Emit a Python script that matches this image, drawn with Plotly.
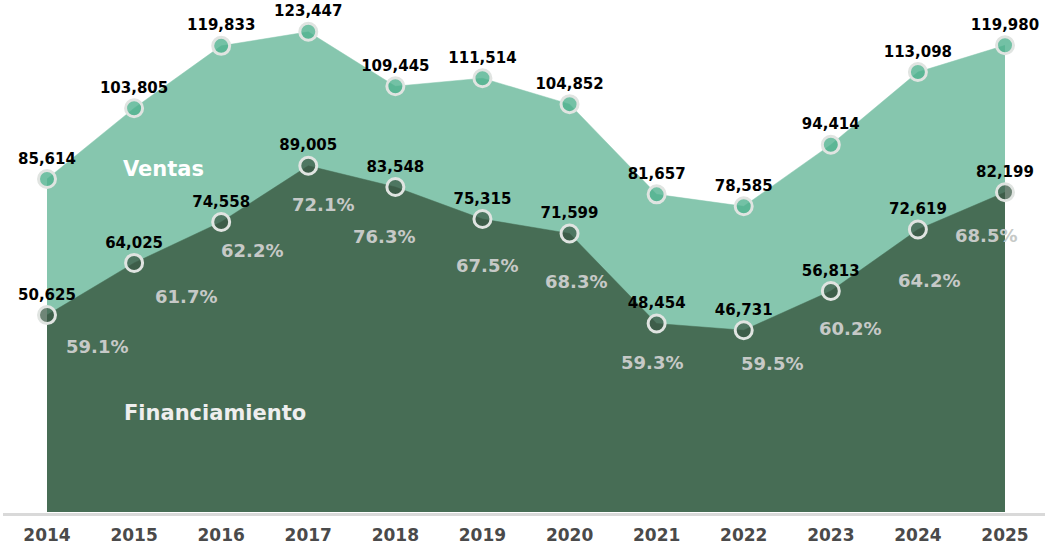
import plotly.graph_objects as go

years = [2014, 2015, 2016, 2017, 2018, 2019, 2020, 2021, 2022, 2023, 2024, 2025]
ventas = [85614, 103805, 119833, 123447, 109445, 111514, 104852, 81657, 78585, 94414, 113098, 119980]
financiamiento = [50625, 64025, 74558, 89005, 83548, 75315, 71599, 48454, 46731, 56813, 72619, 82199]
porcentajes = ["59.1%", "61.7%", "62.2%", "72.1%", "76.3%", "67.5%", "68.3%", "59.3%", "59.5%", "60.2%", "64.2%", "68.5%"]

# percentage label pixel offsets from the financing markers (layout only)
pct_dx = [50, 52, 31, 15, -11, 5, 6, -5, 28, 19, 11, -19]
pct_dy = [31, 34, 29, 39, 49, 46, 48, 39, 33, 37, 51, 43]

C_V = "#86C6AE"
C_F = "#476D55"
FONT = "DejaVu Sans"

W, H = 1048, 549
PLOT_BOTTOM = 512
SCALE = 0.00389  # px per unit

fig = go.Figure()
fig.add_trace(go.Scatter(x=years, y=ventas, mode="lines", fill="tozeroy",
                         line=dict(color=C_V, width=0.5), fillcolor=C_V, hoverinfo="skip"))
fig.add_trace(go.Scatter(x=years, y=financiamiento, mode="lines", fill="tozeroy",
                         line=dict(color=C_F, width=0.5), fillcolor=C_F, hoverinfo="skip"))

fig.add_trace(go.Scatter(x=years, y=ventas, mode="markers+text",
                         text=[f"{v:,}" for v in ventas], textposition="top center",
                         textfont=dict(family=FONT, size=15, color="#000000", weight="bold"),
                         marker=dict(size=17, color="rgba(80,177,142,0.8)",
                                     line=dict(color="#E0E4E1", width=3)),
                         cliponaxis=False))
fig.add_trace(go.Scatter(x=years, y=financiamiento, mode="markers+text",
                         text=[f"{v:,}" for v in financiamiento], textposition="top center",
                         textfont=dict(family=FONT, size=15, color="#000000", weight="bold"),
                         marker=dict(size=17, color="rgba(58,88,68,0.73)",
                                     line=dict(color="#E0E4E1", width=3)),
                         cliponaxis=False))

annotations = []
for yr, f, p, dx, dy in zip(years, financiamiento, porcentajes, pct_dx, pct_dy):
    annotations.append(dict(x=yr, y=f, text=p, showarrow=False, xshift=dx, yshift=-dy,
                            xanchor="center", yanchor="middle",
                            font=dict(family=FONT, size=18, color="#C6C9C7", weight="bold")))
annotations.append(dict(xref="paper", yref="paper", x=163/W, y=(PLOT_BOTTOM-169)/PLOT_BOTTOM,
                        xanchor="center", yanchor="middle", text="Ventas", showarrow=False,
                        font=dict(family=FONT, size=21, color="#FFFFFF", weight="bold")))
annotations.append(dict(xref="paper", yref="paper", x=215/W, y=(PLOT_BOTTOM-413)/PLOT_BOTTOM,
                        xanchor="center", yanchor="middle", text="Financiamiento", showarrow=False,
                        font=dict(family=FONT, size=21, color="#EEEEEE", weight="bold")))

px_per_year = (1005 - 47) / 11
fig.update_layout(
    width=W, height=H,
    margin=dict(l=0, r=0, t=0, b=H - PLOT_BOTTOM),
    paper_bgcolor="white", plot_bgcolor="white",
    showlegend=False,
    annotations=annotations,
    xaxis=dict(range=[2014 - 47/px_per_year, 2025 + 43/px_per_year], tickvals=years,
               ticktext=[str(y) for y in years], showgrid=False, zeroline=False, showline=False,
               ticks="outside", ticklen=8, tickcolor="rgba(0,0,0,0)", automargin=False,
               tickfont=dict(family=FONT, size=17, color="#4A4A4A", weight="bold")),
    yaxis=dict(range=[0, PLOT_BOTTOM/SCALE], visible=False, showgrid=False, automargin=False),
    shapes=[dict(type="line", xref="paper", yref="paper", x0=3/W, x1=1045/W,
                 y0=-2.5/PLOT_BOTTOM, y1=-2.5/PLOT_BOTTOM, line=dict(color="#D9D9D9", width=3))],
)

fig.write_html("out.html", config={"displayModeBar": False},
               post_script="document.body.style.margin='0';")
